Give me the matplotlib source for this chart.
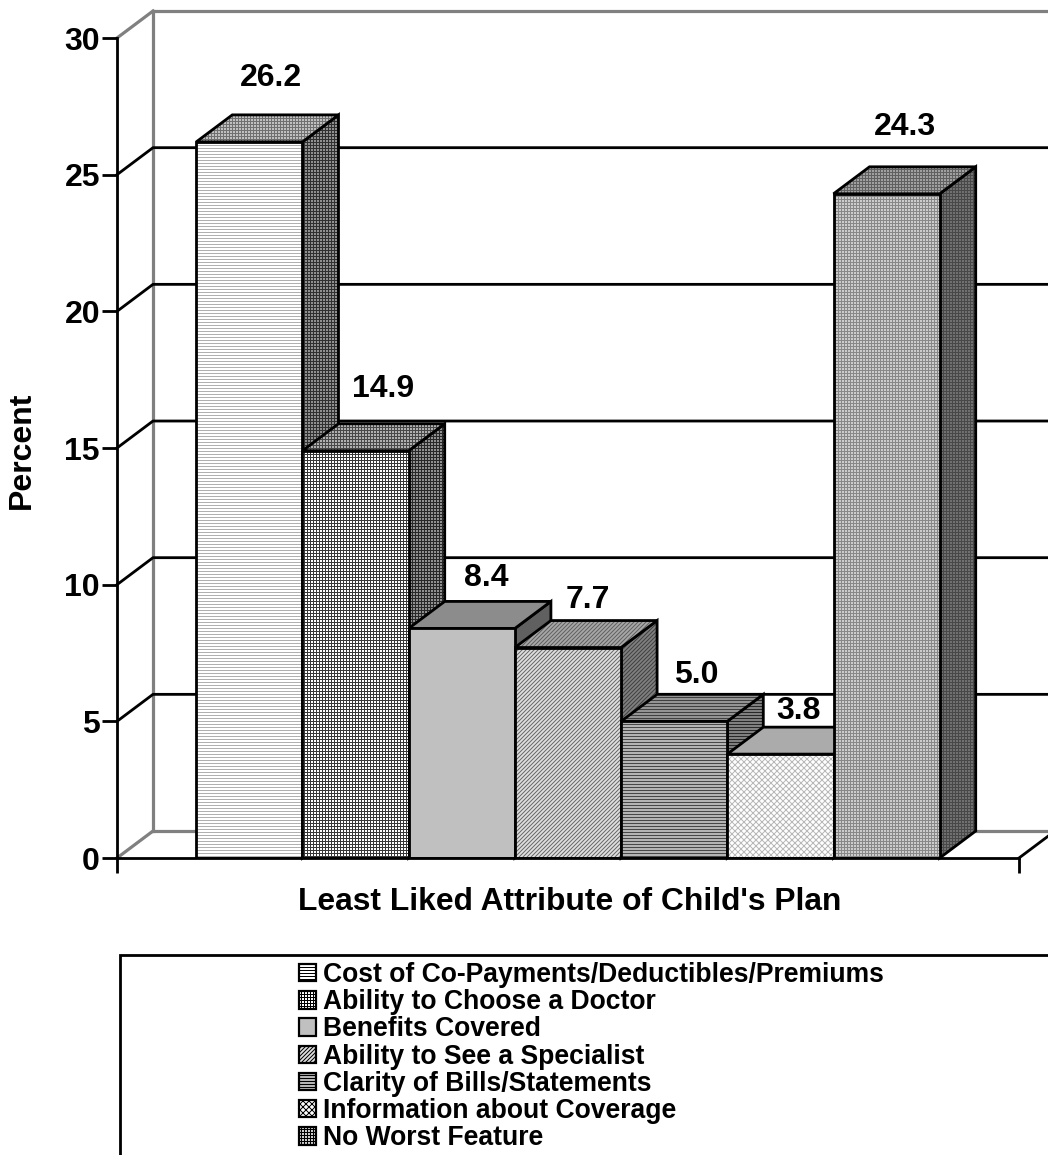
import matplotlib
matplotlib.use('Agg')
import matplotlib.pyplot as plt
from matplotlib.patches import Patch, Polygon, Rectangle

attributes = ['Cost of Co-Payments/Deductibles/Premiums', 'Ability to Choose a Doctor',
              'Benefits Covered', 'Ability to See a Specialist', 'Clarity of Bills/Statements',
              'Information about Coverage', 'No Worst Feature']
percents = [26.2, 14.9, 8.4, 7.7, 5.0, 3.8, 24.3]
y_ticks = [0, 5, 10, 15, 20, 25, 30]

# (face colour, hatch colour, hatch) per bar, for front, side and top
front_style = [('#ffffff', '#b0b0b0', '----'), ('#ffffff', '#383838', '++++'), ('#c0c0c0', '#c0c0c0', ''),
               ('#e0e0e0', '#686868', '//////'), ('#b4b4b4', '#484848', '----'),
               ('#ffffff', '#b8b8b8', 'xxxx'), ('#cccccc', '#888888', '++++')]
side_style = [('#909090', '#303030', '++++'), ('#909090', '#282828', '++++'), ('#606060', '#606060', ''),
              ('#808080', '#404040', '//////'), ('#808080', '#282828', '----'),
              ('#808080', '#282828', '----'), ('#707070', '#484848', '++++')]
top_style = [('#c0c0c0', '#707070', '++++'), ('#b0b0b0', '#484848', '++++'), ('#8c8c8c', '#8c8c8c', ''),
             ('#a8a8a8', '#606060', '//////'), ('#949494', '#404040', '----'),
             ('#ababab', '#ababab', ''), ('#a0a0a0', '#606060', '++++')]
# label offsets from the front top centre of each bar, in points
label_nudge = [(22, 64), (27, 62), (24, 50), (20, 48), (22, 46), (18, 43), (18, 67)]

plt.rcParams['font.family'] = ['Liberation Sans', 'DejaVu Sans']
plt.rcParams['font.weight'] = 'bold'
plt.rcParams['axes.labelweight'] = 'bold'
plt.rcParams['hatch.linewidth'] = 1.0

W, H = 1048, 1155
fig = plt.figure(figsize=(W / 72, H / 72), dpi=72)
ax = fig.add_axes([117 / W, 1 - 858 / H, 902 / W, 820 / H])
ax.set_xlim(-1.2467, 7.2467)
ax.set_ylim(0, 30)
ax.patch.set_visible(False)

# depth of the 3D box in data units
dx = 36 / 106.2
dy = 27 / 27.35
x0, x1 = ax.get_xlim()
lw = 2.8


def face(pts, style):
    fc, hc, hatch = style
    ax.add_patch(Polygon(pts, closed=True, facecolor=fc, edgecolor=hc, hatch=hatch, linewidth=0,
                         clip_on=False, zorder=3))
    ax.add_patch(Polygon(pts, closed=True, fill=False, edgecolor='black', linewidth=lw,
                         joinstyle='miter', clip_on=False, zorder=3))


# back wall and floor
grey = '#808080'
ax.plot([x0 + dx, x0 + dx], [dy, 30 + dy], color=grey, lw=3.2, clip_on=False, zorder=1)
ax.plot([x0, x0 + dx], [0, dy], color=grey, lw=3.2, clip_on=False, zorder=1)
ax.plot([x0, x0 + dx], [30, 30 + dy], color=grey, lw=3.2, clip_on=False, zorder=1)
ax.plot([x0 + dx, x1 + dx], [30 + dy, 30 + dy], color=grey, lw=3.2, clip_on=False, zorder=1)
ax.plot([x0 + dx, x1 + dx], [dy, dy], color=grey, lw=3.2, clip_on=False, zorder=1)
ax.plot([x1, x1 + dx], [0, dy], color='black', lw=lw, clip_on=False, zorder=1)
for t in y_ticks[1:-1]:
    ax.plot([x0, x0 + dx, x1 + dx], [t, t + dy, t + dy], color='black', lw=lw, clip_on=False, zorder=1)

for i, v in enumerate(percents):
    l, r = i - 0.5, i + 0.5
    face([(r, 0), (r + dx, dy), (r + dx, v + dy), (r, v)], side_style[i])
    face([(l, v), (r, v), (r + dx, v + dy), (l + dx, v + dy)], top_style[i])
    fc, hc, hatch = front_style[i]
    ax.bar(i, v, width=1, color=fc, edgecolor=hc, hatch=hatch, linewidth=0, zorder=3)
    ax.bar(i, v, width=1, fill=False, edgecolor='black', linewidth=lw, zorder=3)
    ax.annotate(f'{v:.1f}', (i, v), xytext=label_nudge[i], textcoords='offset points',
                ha='center', va='center', fontsize=32, zorder=4)

for s in ['top', 'right']:
    ax.spines[s].set_visible(False)
for s in ['left', 'bottom']:
    ax.spines[s].set_linewidth(lw)
    ax.spines[s].set_zorder(5)

ax.set_yticks(y_ticks)
ax.set_xticks([x0, x1])
ax.set_xticklabels([])
ax.tick_params(axis='both', length=15, width=lw, labelsize=32, pad=2)
ax.set_xlabel("Least Liked Attribute of Child's Plan", fontsize=31.8, labelpad=12, x=0.5015)
fig.text(22 / W, 1 - 450 / H, 'Percent', rotation=90, ha='center', va='center', fontsize=32)

# legend box runs off the right and bottom of the page
fig.add_artist(Rectangle((120 / W, -0.05), 1.0, 0.05 + 1 - 955 / H, fill=False, edgecolor='black',
                         linewidth=lw, transform=fig.transFigure))
handles = [Patch(facecolor=s[0], edgecolor=s[1], hatch=s[2], linewidth=0) for s in front_style]
leg = fig.legend(handles, attributes, loc='upper left', bbox_to_anchor=(299 / W, 1 - 962 / H),
                 frameon=False, fontsize=26.5, handlelength=0.64, handleheight=0.64, handletextpad=0.26,
                 labelspacing=0.045, borderpad=0, borderaxespad=0)
for h in leg.legend_handles:
    h.set_edgecolor('black')
    h.set_linewidth(2.2)

fig.savefig('out.png', dpi=72)
